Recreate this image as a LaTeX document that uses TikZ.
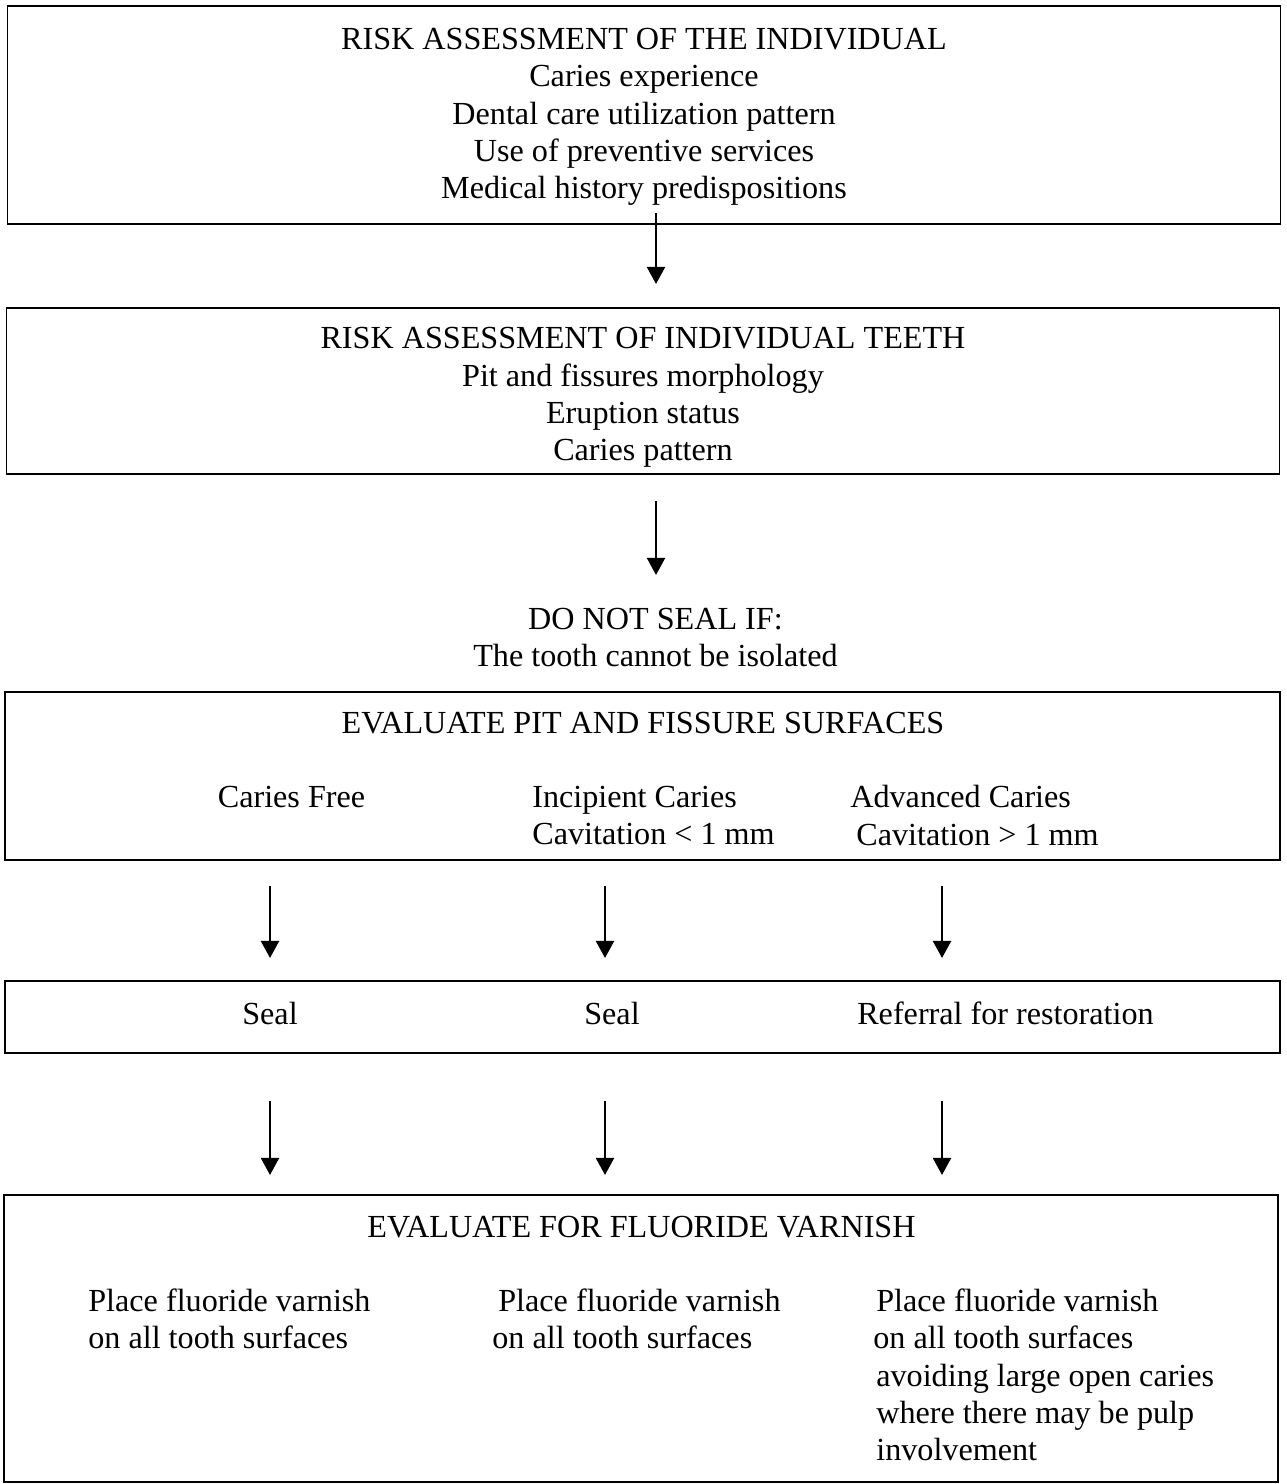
\documentclass[tikz,border=0pt]{standalone}
\usepackage{fontspec}
\setmainfont{Liberation Serif}
\usetikzlibrary{positioning,calc,arrows.meta}

\begin{document}
\begin{tikzpicture}[
      font=\fontsize{18.3pt}{21.2pt}\selectfont,
      box/.style={draw=black, line width=1.1pt, inner sep=0pt,
        minimum width=25.46cm},
      txt/.style={inner sep=0pt, align=center},
      col/.style={inner sep=0pt, align=left, anchor=west},
      arr/.style={-{Triangle[length=3.4mm, width=3.6mm]}, line width=1.2pt}
    ]
    \useasboundingbox (0,0) rectangle (25.72,-29.68);
    % ---------------- boxes ----------------
    \node[box, minimum height=4.36cm] (B1) at (12.88,-2.30) {};
    \node[box, minimum height=3.32cm] (B2) at (12.86,-7.82) {};
    \node[box, minimum height=3.36cm, minimum width=25.5cm] (B3) at (12.85,-15.52) {};
    \node[box, minimum height=1.44cm, minimum width=25.5cm] (B4) at (12.85,-20.34) {};
    \node[box, minimum height=5.74cm, minimum width=25.48cm] (B5) at (12.82,-26.77) {};
    % ---------------- risk assessment ----------------
    \node[txt] (indiv) at (12.88,-2.34) {RISK ASSESSMENT OF THE INDIVIDUAL\\
      Caries experience\\ Dental care utilization pattern\\
      Use of preventive services\\ Medical history predispositions};
    \node[txt] (teeth) at (12.86,-7.95) {RISK ASSESSMENT OF INDIVIDUAL TEETH\\
      Pit and fissures morphology\\ Eruption status\\ Caries pattern};
    \node[txt] (noseal) at (13.11,-12.75) {DO NOT SEAL IF:\\ The tooth cannot be isolated};
    % ---------------- evaluate surfaces ----------------
    \node[txt] (evalpf) at (12.86,-14.46) {EVALUATE PIT AND FISSURE SURFACES};
    \node[txt] (free) at (5.83,-15.94) {Caries Free};
    \node[col] (incip) at (10.64,-16.31) {Incipient Caries\\ Cavitation < 1 mm};
    \node[col] (adv) at (17.0,-16.31) {Advanced Caries\\ \hspace{0.12cm}Cavitation > 1 mm};
    % ---------------- treatment ----------------
    \node[txt] (seal1) at (5.40,-20.26) {Seal};
    \node[txt] (seal2) at (12.24,-20.26) {Seal};
    \node[txt] (refer) at (20.11,-20.26) {Referral for restoration};
    % ---------------- fluoride varnish ----------------
    \node[txt] (evalfv) at (12.83,-24.54) {EVALUATE FOR FLUORIDE VARNISH};
    \node[col] (fv1) at (1.76,-26.37) {Place fluoride varnish\\ on all tooth surfaces};
    \node[col] (fv2) at (9.84,-26.37) {\hspace{0.12cm}Place fluoride varnish\\ on all tooth surfaces};
    \node[col] (fv3) at (17.46,-27.50) {\hspace{0.06cm}Place fluoride varnish\\ on all tooth surfaces\\
      \hspace{0.06cm}avoiding large open caries\\ \hspace{0.06cm}where there may be pulp\\
      \hspace{0.06cm}involvement};
    % ---------------- arrows ----------------
    \draw[arr] ($(B1.south)+(0.24,0.24)$) -- ($(B1.south)+(0.24,-1.18)$);
    \draw[arr] ($(B2.south)+(0.26,-0.52)$) -- ($(B2.south)+(0.26,-2.00)$);
    \draw[arr] ($(B3.south)+(-7.45,-0.50)$) -- ($(B3.south)+(-7.45,-1.94)$);
    \draw[arr] ($(B3.south)+(-0.75,-0.50)$) -- ($(B3.south)+(-0.75,-1.94)$);
    \draw[arr] ($(B3.south)+(5.99,-0.50)$) -- ($(B3.south)+(5.99,-1.94)$);
    \draw[arr] ($(B4.south)+(-7.45,-0.94)$) -- ($(B4.south)+(-7.45,-2.42)$);
    \draw[arr] ($(B4.south)+(-0.75,-0.94)$) -- ($(B4.south)+(-0.75,-2.42)$);
    \draw[arr] ($(B4.south)+(5.99,-0.94)$) -- ($(B4.south)+(5.99,-2.42)$);
  \end{tikzpicture}
\end{document}
